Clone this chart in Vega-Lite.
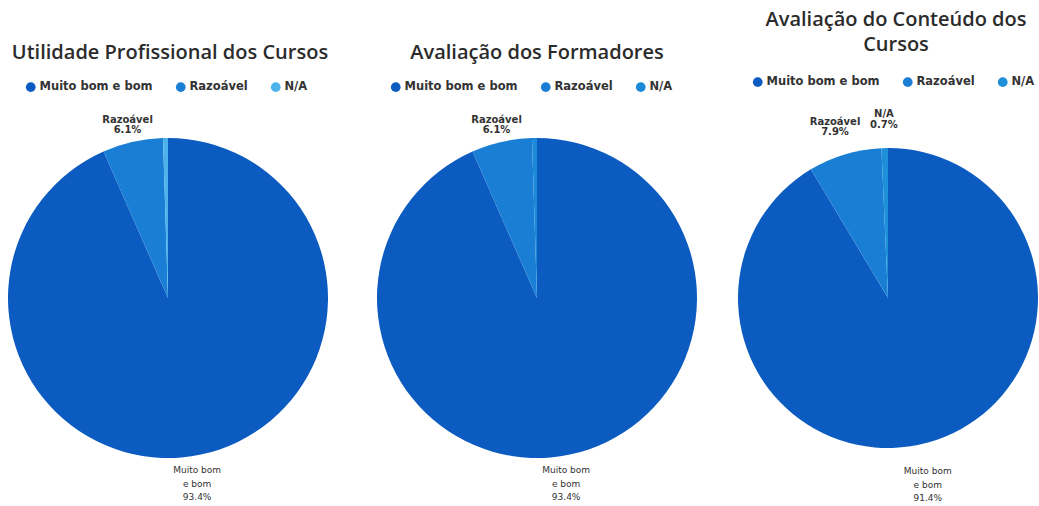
{
  "$schema": "https://vega.github.io/schema/vega-lite/v6.json",
  "padding": {"top": 10, "left": 0, "right": 0, "bottom": 0},
  "background": "white",
  "config": {
    "view": {"stroke": null},
    "font": "Open Sans",
    "title": {"fontSize": 20, "fontWeight": 600, "color": "#2b2b2b", "font": "Open Sans", "lineHeight": 23},
    "legend": {"labelFont": "DejaVu Sans", "labelFontSize": 11.5, "labelFontWeight": "bold", "labelColor": "#333333", "symbolType": "circle", "symbolSize": 95, "symbolStrokeWidth": 0, "labelOffset": 3, "columnPadding": 22, "direction": "horizontal", "orient": "none", "title": null}
  },
  "datasets": {
    "p1": [
      {"categoria": "Muito bom e bom", "valor": 93.4, "ord": 1, "rotulo": "Muito bom\ne bom\n93.4%"},
      {"categoria": "Razoável", "valor": 6.1, "ord": 2, "rotulo": "Razoável\n6.1%"},
      {"categoria": "N/A", "valor": 0.5, "ord": 3, "rotulo": ""}
    ],
    "p2": [
      {"categoria": "Muito bom e bom", "valor": 93.4, "ord": 1, "rotulo": "Muito bom\ne bom\n93.4%"},
      {"categoria": "Razoável", "valor": 6.1, "ord": 2, "rotulo": "Razoável\n6.1%"},
      {"categoria": "N/A", "valor": 0.5, "ord": 3, "rotulo": ""}
    ],
    "p3": [
      {"categoria": "Muito bom e bom", "valor": 91.4, "ord": 1, "rotulo": "Muito bom\ne bom\n91.4%"},
      {"categoria": "Razoável", "valor": 7.9, "ord": 2, "rotulo": "Razoável\n7.9%"},
      {"categoria": "N/A", "valor": 0.7, "ord": 3, "rotulo": "N/A\n0.7%"}
    ]
  },
  "hconcat": [
    {
      "width": 336, "height": 400,
      "title": {"text": "Utilidade Profissional dos Cursos", "offset": 18, "dx": 2},
      "data": {"name": "p1"},
      "layer": [
        {
          "mark": {"type": "arc", "outerRadius": 160},
          "encoding": {
            "theta": {"field": "valor", "type": "quantitative", "stack": true},
            "order": {"field": "ord", "type": "quantitative"},
            "color": {"field": "categoria", "type": "nominal", "scale": {"domain": ["Muito bom e bom", "Razoável", "N/A"], "range": ["#0b5bc0", "#1a7fd4", "#4db3ea"]}, "legend": {"legendX": 25, "legendY": -17}}
          }
        },
        {
          "mark": {"type": "text", "radius": 183, "lineBreak": "\n", "font": "DejaVu Sans", "fontSize": 10, "fontWeight": "bold", "color": "#333333", "lineHeight": 10.5},
          "encoding": {
            "theta": {"field": "valor", "type": "quantitative", "stack": true},
            "order": {"field": "ord", "type": "quantitative"},
            "text": {"condition": {"test": "datum.ord == 1", "value": ""}, "field": "rotulo", "type": "nominal"}
          }
        },
        {
          "mark": {"type": "text", "radius": 190, "dx": -10, "dy": -13.5, "lineBreak": "\n", "font": "DejaVu Sans", "fontSize": 9, "color": "#333333", "lineHeight": 13.5},
          "encoding": {
            "theta": {"field": "valor", "type": "quantitative", "stack": true},
            "order": {"field": "ord", "type": "quantitative"},
            "text": {"condition": {"test": "datum.ord != 1", "value": ""}, "field": "rotulo", "type": "nominal"}
          }
        }
      ]
    },
    {
      "width": 402, "height": 400,
      "title": {"text": "Avaliação dos Formadores", "offset": 18},
      "data": {"name": "p2"},
      "layer": [
        {
          "mark": {"type": "arc", "outerRadius": 160},
          "encoding": {
            "theta": {"field": "valor", "type": "quantitative", "stack": true},
            "order": {"field": "ord", "type": "quantitative"},
            "color": {"field": "categoria", "type": "nominal", "scale": {"domain": ["Muito bom e bom", "Razoável", "N/A"], "range": ["#0b5bc0", "#1a7fd4", "#1c8ad8"]}, "legend": {"legendX": 54, "legendY": -17}}
          }
        },
        {
          "mark": {"type": "text", "radius": 183, "lineBreak": "\n", "font": "DejaVu Sans", "fontSize": 10, "fontWeight": "bold", "color": "#333333", "lineHeight": 10.5},
          "encoding": {
            "theta": {"field": "valor", "type": "quantitative", "stack": true},
            "order": {"field": "ord", "type": "quantitative"},
            "text": {"condition": {"test": "datum.ord == 1", "value": ""}, "field": "rotulo", "type": "nominal"}
          }
        },
        {
          "mark": {"type": "text", "radius": 190, "dx": -10, "dy": -13.5, "lineBreak": "\n", "font": "DejaVu Sans", "fontSize": 9, "color": "#333333", "lineHeight": 13.5},
          "encoding": {
            "theta": {"field": "valor", "type": "quantitative", "stack": true},
            "order": {"field": "ord", "type": "quantitative"},
            "text": {"condition": {"test": "datum.ord != 1", "value": ""}, "field": "rotulo", "type": "nominal"}
          }
        }
      ]
    },
    {
      "width": 300, "height": 400,
      "title": {"text": ["Avaliação do Conteúdo dos", "Cursos"], "offset": 21, "dx": 8, "lineHeight": 25},
      "data": {"name": "p3"},
      "layer": [
        {
          "mark": {"type": "arc", "outerRadius": 150},
          "encoding": {
            "theta": {"field": "valor", "type": "quantitative", "stack": true},
            "order": {"field": "ord", "type": "quantitative"},
            "color": {"field": "categoria", "type": "nominal", "scale": {"domain": ["Muito bom e bom", "Razoável", "N/A"], "range": ["#0b5bc0", "#1a7fd4", "#1e90da"]}, "legend": {"legendX": 14, "legendY": -22}}
          }
        },
        {
          "mark": {"type": "text", "radius": 184, "lineBreak": "\n", "font": "DejaVu Sans", "fontSize": 10, "fontWeight": "bold", "color": "#333333", "lineHeight": 10.5},
          "encoding": {
            "theta": {"field": "valor", "type": "quantitative", "stack": true},
            "order": {"field": "ord", "type": "quantitative"},
            "text": {"condition": {"test": "datum.ord == 1", "value": ""}, "field": "rotulo", "type": "nominal"}
          }
        },
        {
          "mark": {"type": "text", "radius": 194, "dx": -12, "dy": -13.5, "lineBreak": "\n", "font": "DejaVu Sans", "fontSize": 9, "color": "#333333", "lineHeight": 13.5},
          "encoding": {
            "theta": {"field": "valor", "type": "quantitative", "stack": true},
            "order": {"field": "ord", "type": "quantitative"},
            "text": {"condition": {"test": "datum.ord != 1", "value": ""}, "field": "rotulo", "type": "nominal"}
          }
        }
      ]
    }
  ],
  "spacing": 0,
  "bounds": "flush",
  "resolve": {"scale": {"color": "independent", "theta": "independent"}, "legend": {"color": "independent"}}
}
